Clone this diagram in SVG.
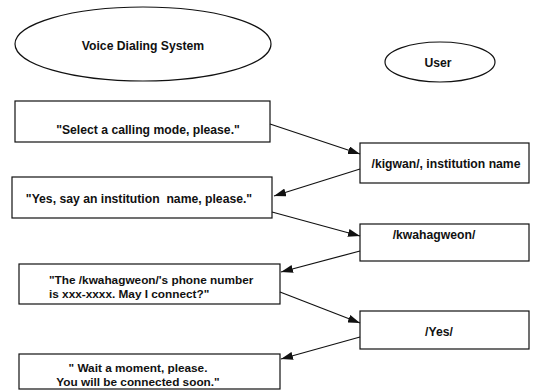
<svg xmlns="http://www.w3.org/2000/svg" width="533" height="390" viewBox="0 0 533 390">
<style>
.n{fill:#fff;stroke:#111;stroke-width:1.2}
.t{font-family:"Liberation Sans",Arial,sans-serif;font-size:12.2px;font-weight:bold;fill:#111}
.s{font-size:11.8px}
.c{text-anchor:middle}
.e{stroke:#111;stroke-width:1.2;fill:none;marker-end:url(#ah)}
</style>
<defs>
<marker id="ah" viewBox="0 0 12 8" refX="12" refY="4" markerWidth="12" markerHeight="8" markerUnits="userSpaceOnUse" orient="auto">
<path d="M0,0 L12,4 L0,8 Z" fill="#111"/>
</marker>
</defs>
<rect width="533" height="390" fill="#fff"/>
<g id="vds"><ellipse class="n" cx="143" cy="44" rx="128" ry="37"/><text class="t c" x="143" y="50">Voice Dialing System</text></g>
<g id="user"><ellipse class="n" cx="440" cy="62" rx="55" ry="20"/><text class="t c" x="438" y="67">User</text></g>
<g id="b1"><rect class="n" x="15" y="101" width="255" height="41"/><text class="t c" x="148" y="134">"Select a calling mode, please."</text></g>
<g id="b2"><rect class="n" x="360" y="143" width="169" height="40"/><text class="t c" x="446" y="168">/kigwan/, institution name</text></g>
<g id="b3"><rect class="n" x="12" y="177" width="260" height="41"/><text class="t c" x="139" y="203" xml:space="preserve">"Yes, say an institution  name, please."</text></g>
<g id="b4"><rect class="n" x="360" y="224" width="169" height="37"/><text class="t c" x="434" y="239">/kwahagweon/</text></g>
<g id="b5"><rect class="n" x="19" y="264" width="261" height="40"/><text class="t s" x="49" y="284">"The /kwahagweon/'s phone number</text><text class="t s" x="49" y="298">is xxx-xxxx. May I connect?"</text></g>
<g id="b6"><rect class="n" x="360" y="311" width="169" height="38"/><text class="t c" x="439" y="336">/Yes/</text></g>
<g id="b7"><rect class="n" x="19" y="354" width="261" height="35"/><text class="t s c" x="138" y="372">" Wait a moment, please.</text><text class="t s c" x="138" y="386">You will be connected soon."</text></g>
<g id="connectors">
<line class="e" x1="270" y1="124" x2="360" y2="154"/>
<line class="e" x1="360" y1="169" x2="274" y2="196"/>
<line class="e" x1="272" y1="212" x2="360" y2="236"/>
<line class="e" x1="360" y1="251" x2="281" y2="272"/>
<line class="e" x1="280" y1="292" x2="360" y2="323"/>
<line class="e" x1="360" y1="337" x2="281" y2="359"/>
</g>
</svg>
